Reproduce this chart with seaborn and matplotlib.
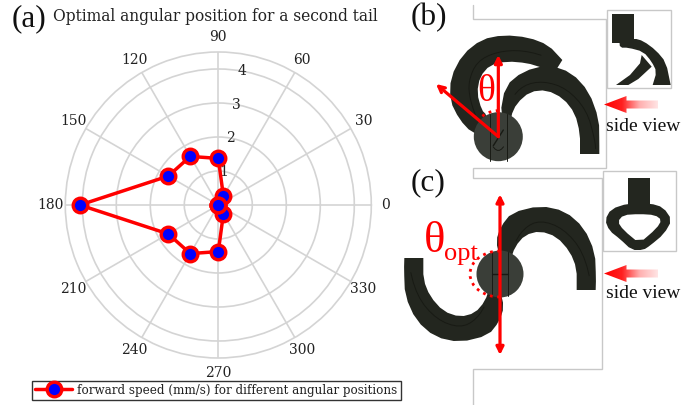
import numpy as np
import pandas as pd
import matplotlib
matplotlib.use("Agg")
import matplotlib.pyplot as plt
from matplotlib.patches import Rectangle, Circle, Polygon, Arc, FancyArrowPatch
from matplotlib.colors import LinearSegmentedColormap
import seaborn as sns

angles_deg = [0, 30, 60, 90, 120, 150, 180, 210, 240, 270, 300, 330, 360]
speeds = [0.0, 0.0, 0.3, 1.37, 1.65, 1.7, 4.07, 1.7, 1.65, 1.37, 0.3, 0.0, 0.0]
theta_ticks = [0, 30, 60, 90, 120, 150, 180, 210, 240, 270, 300, 330]
r_ticks = [1, 2, 3, 4]
series_label = "forward speed (mm/s) for different angular positions"
title_text = "Optimal angular position for a second tail"

sns.set_theme(style="white")
plt.rcParams["font.family"] = ["DejaVu Serif"]
GRID = "#d4d4d4"
TXT = "#222222"
RED = "#ff0000"
DARK = "#23261f"
HUB = "#3a3e38"
LINE = "#181a14"
FRAME = "#c8c8c8"
BIG = ["Liberation Serif"]

fig = plt.figure(figsize=(7, 4.05), dpi=100, facecolor="white")

ax = fig.add_axes([65.3 / 700, (405 - 358) / 405, 306 / 700, 306 / 405], projection="polar")
df = pd.DataFrame({"theta": np.deg2rad(angles_deg), "speed": speeds})
sns.lineplot(data=df, x="theta", y="speed", sort=False, estimator=None, ax=ax, color=RED,
             linewidth=2.5, marker="o", markersize=10.5, markerfacecolor="#0000ff",
             markeredgecolor=RED, markeredgewidth=2.4, label=series_label, clip_on=False, zorder=5)
ax.set_xlabel("")
ax.set_ylabel("")
ax.set_ylim(0, 4.5)
ax.set_xticks(np.deg2rad(theta_ticks))
ax.set_xticklabels([str(t) for t in theta_ticks], fontsize=10, color=TXT)
ax.set_yticks(r_ticks)
ax.set_yticklabels([str(r) for r in r_ticks], fontsize=10, color=TXT, ha="center", va="center")
ax.set_rlabel_position(80)
ax.tick_params(axis="x", pad=-2.5)
ax.tick_params(axis="y", pad=0)
ax.grid(True, color=GRID, linewidth=1.2)
ax.spines["polar"].set_color(GRID)
ax.spines["polar"].set_linewidth(1.2)

leg = ax.legend(loc="lower left", bbox_to_anchor=(32 / 700, 5.5 / 405), bbox_transform=fig.transFigure,
                frameon=True, fancybox=False, edgecolor="#333333", framealpha=1, fontsize=8.6,
                borderpad=0.25, handlelength=3.1, handletextpad=0.45, borderaxespad=0)
leg.get_frame().set_linewidth(1.0)
for t in leg.get_texts():
    t.set_color(TXT)

# pixel-space overlay for labels and illustrations
ov = fig.add_axes([0, 0, 1, 1], facecolor="none")
ov.set_axis_off()


def bp(pts):
    return [(400 + x / 3, y / 3) for x, y in pts]


def cp(pts):
    return [(400 + x / 3, 165 + y / 3) for x, y in pts]


def smooth(pts, n=3, closed=True):
    p = np.array(pts, float)
    for _ in range(n):
        q = np.roll(p, -1, axis=0) if closed else p[1:]
        a = p if closed else p[:-1]
        p = np.empty((2 * len(a), 2))
        p[0::2] = 0.75 * a + 0.25 * q
        p[1::2] = 0.25 * a + 0.75 * q
    return p


def shape(pts, col=DARK, z=3, sm=2):
    ov.add_patch(Polygon(smooth(pts, sm) if sm else pts, fc=col, ec="none", zorder=z))


def line(pts, col=LINE, lw=0.7, z=3.5):
    p = smooth(pts, 2, closed=False)
    ov.plot(p[:, 0], p[:, 1], color=col, lw=lw, zorder=z)


def arrow(p, q, style, ms=11):
    ov.add_patch(FancyArrowPatch(p, q, arrowstyle=style, mutation_scale=ms, color=RED, lw=2.3,
                                 shrinkA=0, shrinkB=0, zorder=7))


ov.text(12, 19, "(a)", fontsize=22.5, family=BIG, color="#111111", ha="left", va="center")
ov.text(53, 16.5, title_text, fontsize=11.2, color=TXT, ha="left", va="center")
ov.text(411, 18, "(b)", fontsize=22.5, family=BIG, color="#111111", ha="left", va="center")
ov.text(411, 183, "(c)", fontsize=22.5, family=BIG, color="#111111", ha="left", va="center")

# frames
fr = bp([(220, 15), (220, 58), (617, 58), (617, 503), (220, 503)]) + cp([(220, 40), (605, 40), (605, 612), (220, 612), (220, 720)])
ov.plot(*zip(*fr), color=FRAME, lw=1.0, solid_joinstyle="miter", zorder=1)
ov.add_patch(Rectangle((606.5, 10), 64, 78.3, fc="white", ec=FRAME, lw=1, zorder=2))
ov.add_patch(Rectangle((602.5, 171), 73, 80, fc="white", ec=FRAME, lw=1, zorder=2))

# (b) tails
shape(bp([(487, 180), (487, 180), (445, 135), (385, 112), (310, 105), (245, 118), (188, 163), (152, 232), (150, 302),
          (178, 358), (215, 398), (280, 420), (260, 345), (245, 330), (231, 279), (240, 230), (270, 195), (321, 184),
          (381, 189), (420, 201), (465, 215), (465, 215)]), sm=1)
shape(bp([(300, 345), (316, 258), (369, 214), (445, 194), (515, 218), (567, 275), (597, 358), (598, 430), (598, 462), (598, 462),
          (540, 462), (540, 462), (540, 400), (525, 340), (490, 295), (440, 270), (390, 275), (350, 310), (332, 350), (330, 400)]), sm=1)
line(bp([(235, 370), (210, 300), (205, 245), (230, 185), (290, 155), (370, 150), (455, 175)]))
line(bp([(330, 300), (370, 255), (430, 243), (500, 265), (560, 330), (585, 420), (588, 462)]))
ov.add_patch(Circle((498.3, 136.7), 24.5, fc=HUB, ec="none", zorder=4))
for xx in (270, 320):
    ov.plot(*zip(*bp([(xx, 342), (xx, 484)])), color=LINE, lw=0.7, zorder=5)
line(bp([(270, 430), (295, 458), (320, 430)]), z=5)
ov.plot(*zip(*bp([(280, 437), (310, 390)])), color=LINE, lw=1.0, zorder=5)

arrow(*bp([(295, 410), (295, 165)]), "-|>")
arrow(*bp([(295, 410), (108, 252)]), "->")
ov.add_patch(Arc((498.3, 136.7), 52, 52, theta1=232, theta2=272, color=RED, lw=2, ls=":", zorder=7))
ov.text(486.5, 92, "θ", fontsize=27, family=BIG, color=RED, ha="center", va="center", zorder=8)

# (b) side view inset
ov.add_patch(Rectangle((612.3, 14.3), 21.7, 28.5, fc=DARK, ec="none", zorder=3))
ins = lambda pts: [(600 + x / 3, 5 + y / 3) for x, y in pts]
shape(ins([(58, 108), (102, 100), (130, 108), (168, 136), (198, 172), (212, 240), (212, 240), (158, 240), (158, 240), (170, 200),
           (155, 170), (130, 140), (85, 128), (60, 128)]), sm=1)
shape(ins([(125, 150), (155, 185), (115, 222), (85, 240), (48, 240), (90, 210), (120, 175)]), sm=0)

# (c) tails
right = [(300, 280), (288, 228), (302, 185), (335, 143), (420, 122), (495, 138), (552, 188), (585, 262), (588, 340),
         (587, 375), (587, 375), (530, 375), (530, 375), (530, 310), (510, 260), (470, 215), (420, 198), (375, 210), (345, 245), (330, 290), (330, 320)]
shape(cp(right), sm=1)
shape(cp([(600 - x, 654 - y) for x, y in right]), sm=1)
line(cp([(335, 250), (370, 190), (420, 165), (490, 190), (550, 260), (578, 375)]))
line(cp([(265, 404), (230, 464), (180, 489), (110, 464), (50, 394), (22, 280)]))
ov.add_patch(Circle((500, 274), 23.5, fc=HUB, ec="none", zorder=4))
for xx in (275, 325):
    ov.plot(*zip(*cp([(xx, 262), (xx, 392)])), color=LINE, lw=0.7, zorder=5)
ov.plot(*zip(*cp([(275, 327), (325, 327)])), color=LINE, lw=1, zorder=5)

arrow(*cp([(300, 88), (300, 570)]), "<|-|>")
ov.add_patch(Arc((500, 274), 60, 46, theta1=90, theta2=270, color=RED, lw=2, ls=":", zorder=7))
ov.text(435, 241, "θ", fontsize=32, family=BIG, color=RED, ha="center", va="center", zorder=8)
ov.text(461, 254, "opt", fontsize=19, family=BIG, color=RED, ha="center", va="center", zorder=8)

# (c) side view inset
ov.add_patch(Rectangle((628.3, 178), 21.7, 28, fc=DARK, ec="none", zorder=3))
ins2 = lambda pts: [(600 + x / 3, 170 + y / 3) for x, y in pts]
shape(ins2([(85, 100), (150, 100), (190, 112), (216, 150), (192, 192), (150, 227), (130, 240), (95, 240), (60, 207),
            (28, 182), (15, 150), (33, 117)]), sm=1)
shape(ins2([(118, 132), (165, 135), (185, 150), (170, 175), (118, 220), (70, 180), (53, 155), (70, 135)]), col="white", sm=1, z=3.2)

# side-view arrows
cmap = LinearSegmentedColormap.from_list("fade", ["#ff0000", "#ff2020", "#ffb0b0", "#ffe4e4"])
grad = np.linspace(0, 1, 128).reshape(1, -1)
for (x0, yc) in ((604, 104.5), (604, 273.5)):
    x1, x2 = x0 + 22.5, x0 + 54
    verts = [(x0, yc), (x1, yc - 8.5), (x1, yc - 4), (x2, yc - 4), (x2, yc + 4), (x1, yc + 4), (x1, yc + 8.5)]
    im = ov.imshow(grad, extent=(x0, x2, yc + 9, yc - 9), cmap=cmap, aspect="auto", zorder=6)
    clip = Polygon(verts, transform=ov.transData, fc="none", ec="none")
    ov.add_patch(clip)
    im.set_clip_path(clip)
ov.text(643.5, 126.5, "side view", fontsize=14, family=BIG, color="#111111", ha="center", va="center")
ov.text(643.5, 293, "side view", fontsize=14, family=BIG, color="#111111", ha="center", va="center")

ov.set_xlim(0, 700)
ov.set_ylim(405, 0)

fig.savefig("out.png", dpi=100)
